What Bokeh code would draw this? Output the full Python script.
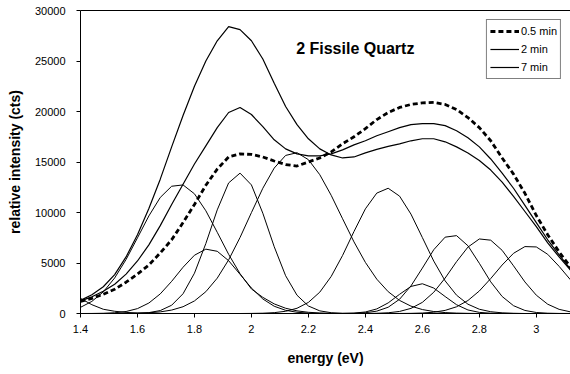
from bokeh.plotting import figure
from bokeh.models import Range1d, FixedTicker, LinearAxis, Label, Legend, LegendItem
from bokeh.embed import file_html
from bokeh.resources import INLINE

# photon energy grid (eV)
energy = [1.40, 1.44, 1.48, 1.52, 1.56, 1.60, 1.64, 1.68, 1.72, 1.76, 1.80,
          1.84, 1.88, 1.92, 1.96, 2.00, 2.04, 2.08, 2.12, 2.16, 2.20, 2.24,
          2.28, 2.32, 2.36, 2.40, 2.44, 2.48, 2.52, 2.56, 2.60, 2.64, 2.68,
          2.72, 2.76, 2.80, 2.84, 2.88, 2.92, 2.96, 3.00, 3.04, 3.08, 3.12]

# measured spectra (cts)
spec_05min = [1200, 1500, 1900, 2400, 3100, 3900, 4800, 6000, 7300, 9000, 10800,
              12700, 14300, 15500, 15800, 15750, 15500, 15100, 14750, 14600, 15000, 15400,
              16000, 16800, 17500, 18300, 19200, 19900, 20400, 20700, 20850, 20900, 20700,
              20200, 19400, 18400, 17100, 15400, 13800, 11900, 9700, 7800, 6100, 4600]
spec_2min = [1250, 1650, 2200, 2900, 3900, 5200, 6800, 8700, 10800, 12800, 14800,
             16600, 18400, 19900, 20400, 19700, 18500, 17200, 16300, 15800, 15600, 15600,
             15800, 16200, 16700, 17100, 17600, 18000, 18400, 18700, 18800, 18800, 18600,
             18100, 17400, 16500, 15300, 13900, 12400, 10700, 9000, 7300, 5800, 4400]
spec_7min = [1300, 1850, 2650, 3850, 5600, 7800, 10400, 13300, 16500, 19600, 22500,
             25000, 27000, 28400, 28100, 27000, 25200, 22800, 20500, 18700, 17300, 16300,
             15700, 15400, 15500, 15900, 16250, 16550, 16800, 17100, 17300, 17300, 17000,
             16500, 15900, 15150, 14200, 13000, 11600, 10100, 8600, 7000, 5600, 4300]

# Gaussian band components (cts)
comp_a = [1500, 870, 420, 220, 110, 40, 10, 0, 0, 0, 0,
          0, 0, 0, 0, 0, 0, 0, 0, 0, 0, 0,
          0, 0, 0, 0, 0, 0, 0, 0, 0, 0, 0,
          0, 0, 0, 0, 0, 0, 0, 0, 0, 0, 0]
comp_b = [610, 1200, 2140, 3520, 5350, 7490, 9660, 11490, 12600, 12730, 11850,
          10170, 8040, 5860, 3940, 2430, 1600, 950, 520, 260, 120, 50,
          15, 0, 0, 0, 0, 0, 0, 0, 0, 0, 0,
          0, 0, 0, 0, 0, 0, 0, 0, 0, 0, 0]
comp_c = [0, 6, 22, 71, 198, 484, 1037, 1942, 3184, 4580, 5770,
          6370, 6160, 5230, 3880, 2520, 1440, 717, 316, 121, 40, 12,
          0, 0, 0, 0, 0, 0, 0, 0, 0, 0, 0,
          0, 0, 0, 0, 0, 0, 0, 0, 0, 0, 0]
comp_d = [0, 0, 0, 0, 5, 23, 88, 292, 819, 1956, 3990,
          6930, 10260, 12930, 13900, 12730, 9930, 6610, 3740, 1810, 742, 260,
          78, 20, 0, 0, 0, 0, 0, 0, 0, 0, 0,
          0, 0, 0, 0, 0, 0, 0, 0, 0, 0, 0]
comp_e = [0, 0, 0, 5, 11, 29, 71, 160, 340, 670, 1245,
          2160, 3500, 5310, 7525, 9990, 12400, 14400, 15650, 15920, 15230, 13740,
          11700, 9380, 7090, 5060, 3400, 2160, 1295, 730, 390, 195, 91,
          40, 15, 0, 0, 0, 0, 0, 0, 0, 0, 0]
comp_f = [0, 0, 0, 0, 0, 0, 0, 0, 0, 0, 0,
          0, 0, 0, 0, 9, 29, 84, 220, 517, 1100, 2115,
          3670, 5750, 8120, 10360, 11920, 12400, 11620, 9840, 7520, 5190, 3230,
          1815, 920, 422, 175, 65, 22, 0, 0, 0, 0, 0]
comp_g = [0, 0, 0, 0, 0, 0, 0, 0, 0, 0, 0,
          0, 0, 0, 0, 0, 0, 0, 0, 0, 0, 0,
          0, 8, 40, 151, 452, 1050, 1900, 2680, 2945, 2520, 1680,
          870, 351, 111, 28, 5, 0, 0, 0, 0, 0, 0]
comp_h = [0, 0, 0, 0, 0, 0, 0, 0, 0, 0, 0,
          0, 0, 0, 0, 0, 0, 0, 0, 0, 0, 0,
          0, 0, 20, 75, 233, 621, 1410, 2730, 4495, 6315, 7560,
          7710, 6705, 4970, 3135, 1685, 773, 302, 100, 28, 7, 0]
comp_i = [0, 0, 0, 0, 0, 0, 0, 0, 0, 0, 0,
          0, 0, 0, 0, 0, 0, 0, 0, 0, 0, 0,
          0, 0, 0, 6, 22, 72, 204, 506, 1103, 2103, 3510,
          5130, 6575, 7380, 7260, 6255, 4720, 3125, 1812, 920, 410, 160]
comp_j = [0, 0, 0, 0, 0, 0, 0, 0, 0, 0, 0,
          0, 0, 0, 0, 0, 0, 0, 0, 0, 0, 0,
          0, 0, 0, 0, 0, 0, 5, 15, 47, 127, 308,
          664, 1287, 2230, 3460, 4800, 5960, 6625, 6590, 5860, 4670, 3330]

x_ticks = [1.4, 1.6, 1.8, 2.0, 2.2, 2.4, 2.6, 2.8, 3.0]
x_tick_labels = ["1.4", "1.6", "1.8", "2", "2.2", "2.4", "2.6", "2.8", "3"]
y_ticks = [0, 5000, 10000, 15000, 20000, 25000, 30000]
y_tick_labels = ["0", "5000", "10000", "15000", "20000", "25000", "30000"]
series_labels = ["0.5 min", "2 min", "7 min"]
title_text = "2 Fissile Quartz"

FONT = "Liberation Sans"

p = figure(width=570, height=374, output_backend="svg", toolbar_location=None,
           x_range=Range1d(1.4, 3.12), y_range=Range1d(0, 30000),
           min_border_left=80, min_border_right=0, min_border_top=10,
           min_border_bottom=61,
           x_axis_label="energy (eV)", y_axis_label="relative intensity (cts)")
p.outline_line_color = None
p.grid.visible = False
p.background_fill_color = "white"
p.border_fill_color = "white"

for ax in (p.xaxis[0], p.yaxis[0]):
    ax.axis_line_color = "black"
    ax.axis_line_width = 1
    ax.major_tick_line_color = "black"
    ax.major_tick_in = 0
    ax.major_tick_out = 4
    ax.minor_tick_line_color = None
    ax.major_label_text_font = FONT
    ax.major_label_text_font_size = "11px"
    ax.major_label_text_color = "black"
    ax.axis_label_text_font = FONT
    ax.axis_label_text_font_size = "14px"
    ax.axis_label_text_font_style = "bold"
    ax.axis_label_text_color = "black"

p.xaxis[0].ticker = FixedTicker(ticks=x_ticks)
p.xaxis[0].major_label_overrides = dict(zip(x_ticks, x_tick_labels))
p.xaxis[0].major_label_standoff = 7
p.xaxis[0].axis_label_standoff = 14
p.yaxis[0].ticker = FixedTicker(ticks=y_ticks)
p.yaxis[0].major_label_overrides = dict(zip(y_ticks, y_tick_labels))
p.yaxis[0].major_label_standoff = 11
p.yaxis[0].axis_label_standoff = 9

top = LinearAxis(ticker=FixedTicker(ticks=[]), major_label_text_font_size="0px",
                 major_tick_out=0, major_tick_in=0, minor_tick_out=0,
                 minor_tick_in=0, axis_line_color="black")
p.add_layout(top, "above")

components = [comp_a, comp_b, comp_c, comp_d, comp_e, comp_f, comp_g, comp_h, comp_i, comp_j]
for comp in components:
    p.line(energy, comp, line_color="black", line_width=1)

r7 = p.line(energy, spec_7min, line_color="black", line_width=1.2)
r2 = p.line(energy, spec_2min, line_color="black", line_width=1.2)
r05 = p.line(energy, spec_05min, line_color="black", line_width=2.8, line_dash="5 3")

legend = Legend(items=[LegendItem(label=series_labels[0], renderers=[r05]),
                       LegendItem(label=series_labels[1], renderers=[r2]),
                       LegendItem(label=series_labels[2], renderers=[r7])],
                location="top_right")
legend.margin = 9
legend.padding = 3
legend.spacing = 2
legend.glyph_width = 29
legend.glyph_height = 16
legend.label_height = 16
legend.label_standoff = 2
legend.label_text_font = FONT
legend.label_text_font_size = "11px"
legend.label_text_color = "black"
legend.border_line_color = "black"
legend.border_line_width = 1
legend.background_fill_color = "white"
legend.background_fill_alpha = 1
p.add_layout(legend)

p.add_layout(Label(x=2.157, y=26200, text=title_text, text_font=FONT,
                   text_font_size="16px", text_font_style="bold",
                   text_color="black", text_baseline="alphabetic"))

open("out.html", "w").write(file_html(p, INLINE))
